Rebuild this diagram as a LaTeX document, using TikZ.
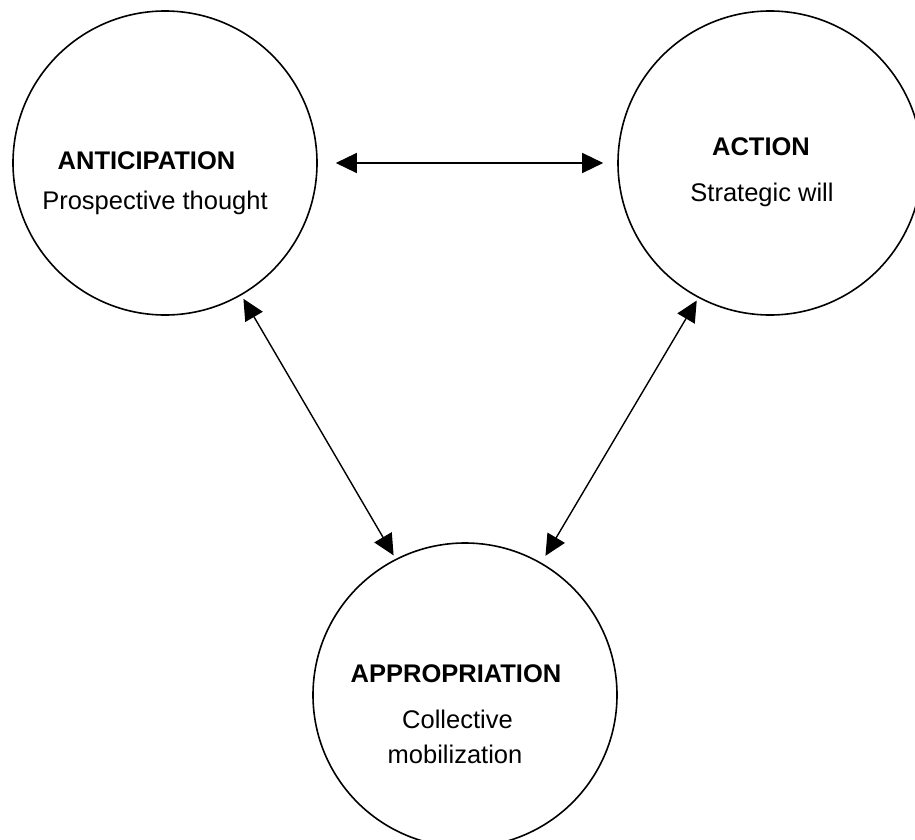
\documentclass[tikz,border=0pt]{standalone}
\usepackage{fontspec}
\setmainfont{Liberation Sans}
\usetikzlibrary{arrows.meta}
\begin{document}
\begin{tikzpicture}[x=1pt,y=-1pt,
  bubble/.style={draw, circle, line width=1.6pt, minimum size=304pt, inner sep=0pt},
  title/.style={anchor=base, inner sep=0pt, font=\fontsize{25.5}{30}\selectfont\bfseries},
  sub/.style={anchor=base, inner sep=0pt, font=\fontsize{25.5}{30}\selectfont},
  link/.style={line width=1.4pt, {Triangle[length=21pt,width=20pt]}-{Triangle[length=21pt,width=20pt]}}]
\fill[white] (0,0) rectangle (915,840);
\useasboundingbox (0,0) rectangle (915,840);
\node[bubble] (L) at (165,163) {};
\node[bubble] (R) at (770,163) {};
\node[bubble] (B) at (465,695) {};
\node[title] (Lt) at (146.5,169) {ANTICIPATION};
\node[sub] (Ls) at (155,209) {Prospective thought};
\node[title] (Rt) at (761,155) {ACTION};
\node[sub] (Rs) at (762,201) {Strategic will};
\node[title] (Bt) at (456,682) {APPROPRIATION};
\node[sub] (Bs1) at (457.5,728) {Collective};
\node[sub] (Bs2) at (455,763) {mobilization};
\draw[link, shorten <=18pt, shorten >=14pt] (L.0) -- (R.180);
\draw[link, shorten <=4pt, shorten >=4pt] (L.-60) -- (B.117);
\draw[link, shorten <=3pt, shorten >=8pt] (R.-118.5) -- (B.60);
\end{tikzpicture}
\end{document}
